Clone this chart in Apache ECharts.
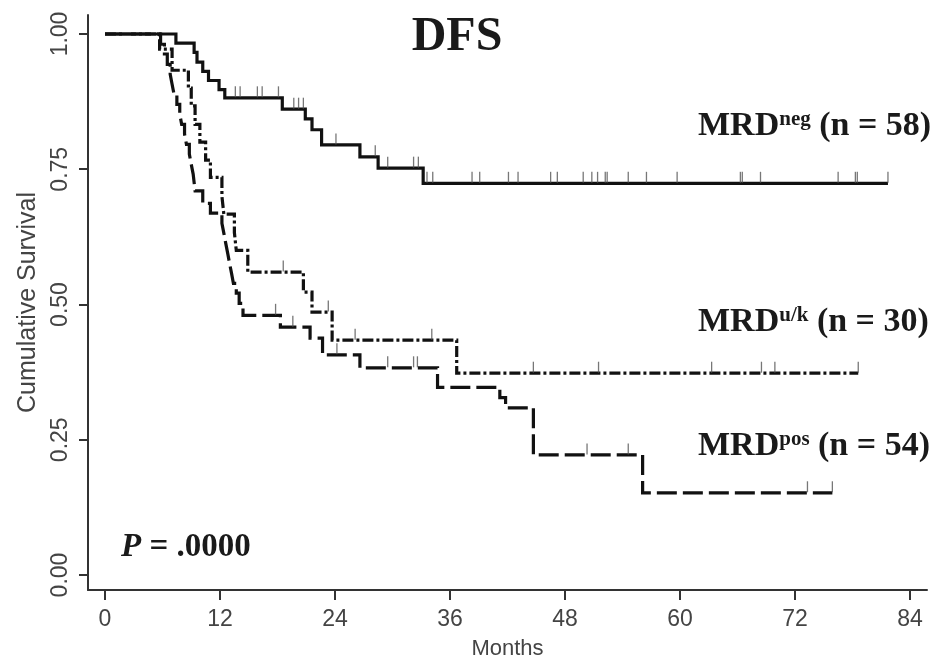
<!DOCTYPE html>
<html>
<head>
<meta charset="utf-8">
<script src="https://cdn.jsdelivr.net/npm/echarts@6/dist/echarts.min.js"></script>
<style>
html,body{margin:0;padding:0;background:#fff;}
#c{width:947px;height:659px;}
</style>
</head>
<body>
<div id="c"></div>
<script>
// ---- data (months, cumulative survival) ----
const xTicks = [0, 12, 24, 36, 48, 60, 72, 84];
const yTicks = [0, 0.25, 0.5, 0.75, 1];

const negTimes = [0, 7.4, 9.3, 9.6, 10.2, 10.8, 11.9, 12.5, 18.5, 20.9, 21.6, 22.6, 26.6, 28.5, 33.2, 81.7];
const negSurv  = [1, 0.983, 0.966, 0.948, 0.931, 0.914, 0.897, 0.882, 0.861, 0.843, 0.823, 0.795, 0.773, 0.752, 0.724, 0.724];
const negCensor = [13.6, 14.1, 15.9, 16.4, 18.1, 19.7, 20.2, 20.7, 24.1, 28.2, 29.5, 32.2, 32.7, 33.6, 34.2, 38.3, 39.1, 42.1, 43.1, 46.5, 47.2, 49.9, 50.8, 51.4, 52.2, 52.4, 54.6, 56.5, 59.7, 66.3, 66.5, 68.4, 76.5, 78.3, 78.5, 81.7];

const ukTimes = [0, 5.7, 7.0, 8.7, 9.0, 9.4, 9.9, 10.5, 11.0, 12.2, 12.4, 13.5, 13.7, 14.9, 20.7, 21.6, 23.7, 36.7, 78.6];
const ukSurv  = [1, 0.972, 0.933, 0.9, 0.867, 0.833, 0.8, 0.767, 0.735, 0.7, 0.667, 0.633, 0.6, 0.56, 0.523, 0.486, 0.434, 0.373, 0.373];
const ukCensor = [18.6, 23.3, 26.1, 34.1, 44.7, 51.5, 63.3, 68.5, 69.9, 78.6];

const posTimes = [0, 5.8, 6.2, 6.5, 6.8, 7.0, 7.2, 7.5, 7.8, 8.0, 8.3, 8.5, 8.8, 9.0, 9.2, 9.4, 10.2, 11.0, 12.2, 12.4, 12.6, 12.8, 13.0, 13.2, 13.4, 13.7, 14.0, 14.4, 18.3, 21.4, 22.7, 26.6, 34.7, 41.2, 41.8, 44.7, 56.1, 75.9];
const posSurv  = [1, 0.981, 0.963, 0.944, 0.926, 0.907, 0.889, 0.870, 0.852, 0.833, 0.815, 0.796, 0.778, 0.759, 0.741, 0.71, 0.687, 0.669, 0.65, 0.632, 0.613, 0.595, 0.576, 0.558, 0.539, 0.521, 0.502, 0.48, 0.458, 0.438, 0.407, 0.383, 0.347, 0.328, 0.309, 0.222, 0.152, 0.152];
const posCensor = [17.8, 19.6, 24.2, 29.5, 32.2, 32.6, 50.3, 54.6, 73.3, 75.9];

// ---- helpers ----
function pairs(t, s) { return t.map((v, i) => [v, s[i]]); }
function survAt(t, s, x) {
  let v = s[0];
  for (let i = 0; i < t.length; i++) { if (t[i] <= x + 1e-9) v = s[i]; }
  return v;
}
function censorPts(t, s, c) { return c.map(x => [x, survAt(t, s, x)]); }

const ink = '#111';
const tickStyle = { color: '#555' };

function kmLine(name, t, s, type) {
  return {
    name: name, type: 'line', step: 'end', data: pairs(t, s),
    showSymbol: false, symbol: 'none', animation: false, z: 3,
    lineStyle: { color: ink, width: 3.2, type: type, cap: 'butt', join: 'miter' }
  };
}
function censorSeries(name, t, s, c) {
  return {
    name: name + ' censored', type: 'scatter', data: censorPts(t, s, c),
    symbol: 'rect', symbolSize: [1.3, 11], symbolOffset: [0, -6],
    itemStyle: tickStyle, animation: false, z: 4
  };
}

const chart = echarts.init(document.getElementById('c'), null, { renderer: 'canvas' });
const axisFont = { fontFamily: 'Liberation Sans', fontSize: 23, color: '#444' };
const richLabel = {
  m: { fontFamily: 'Liberation Serif', fontWeight: 'bold', fontSize: 34, color: '#1a1a1a', verticalAlign: 'bottom' },
  s: { fontFamily: 'Liberation Serif', fontWeight: 'bold', fontSize: 21, color: '#1a1a1a', verticalAlign: 'top' }
};

chart.setOption({
  backgroundColor: '#fff',
  animation: false,
  grid: { left: 88, right: 20, top: 15, bottom: 69, containLabel: false, outerBoundsMode: 'none' },
  xAxis: {
    type: 'value', min: -1.774, max: 85.774,
    name: 'Months', nameLocation: 'middle', nameGap: 48,
    nameTextStyle: { fontFamily: 'Liberation Sans', fontSize: 22, color: '#444' },
    axisLine: { show: true, onZero: false, lineStyle: { color: '#333', width: 2 } },
    axisTick: { show: true, length: 10, customValues: xTicks, lineStyle: { color: '#333', width: 2 } },
    axisLabel: Object.assign({ customValues: xTicks, margin: 18 }, axisFont),
    splitLine: { show: false }
  },
  yAxis: {
    type: 'value', min: -0.0277, max: 1.0351,
    name: 'Cumulative Survival', nameLocation: 'middle', nameRotate: 90, nameGap: 47,
    nameTextStyle: { fontFamily: 'Liberation Sans', fontSize: 25, color: '#444' },
    axisLine: { show: true, onZero: false, lineStyle: { color: '#333', width: 2 } },
    axisTick: { show: true, length: 9, customValues: yTicks, lineStyle: { color: '#333', width: 2 } },
    axisLabel: Object.assign({ customValues: yTicks, rotate: 90, margin: 16,
      formatter: v => v.toFixed(2) }, axisFont),
    splitLine: { show: false }
  },
  title: [
    { text: 'DFS', left: 457, top: 14, textAlign: 'center', padding: 0,
      textStyle: { fontFamily: 'Liberation Serif', fontWeight: 'bold', fontSize: 48, color: '#1a1a1a' } },
    { text: '{m|MRD}{s|neg}{m| (n = 58)}', left: 698, top: 109, padding: 0,
      textStyle: { rich: richLabel } },
    { text: '{m|MRD}{s|u/k}{m| (n = 30)}', left: 698, top: 305, padding: 0,
      textStyle: { rich: richLabel } },
    { text: '{m|MRD}{s|pos}{m| (n = 54)}', left: 698, top: 429, padding: 0,
      textStyle: { rich: richLabel } },
    { text: '{p|P}{m| = .0000}', left: 121, top: 531, padding: 0,
      textStyle: { rich: {
        p: { fontFamily: 'Liberation Serif', fontWeight: 'bold', fontStyle: 'italic', fontSize: 33, color: '#1a1a1a' },
        m: { fontFamily: 'Liberation Serif', fontWeight: 'bold', fontSize: 33, color: '#1a1a1a' } } } }
  ],
  series: [
    kmLine('MRD neg', negTimes, negSurv, 'solid'),
    kmLine('MRD u/k', ukTimes, ukSurv, [11, 3, 3, 3]),
    kmLine('MRD pos', posTimes, posSurv, [20, 6]),
    censorSeries('MRD neg', negTimes, negSurv, negCensor),
    censorSeries('MRD u/k', ukTimes, ukSurv, ukCensor),
    censorSeries('MRD pos', posTimes, posSurv, posCensor)
  ]
});
</script>
</body>
</html>
